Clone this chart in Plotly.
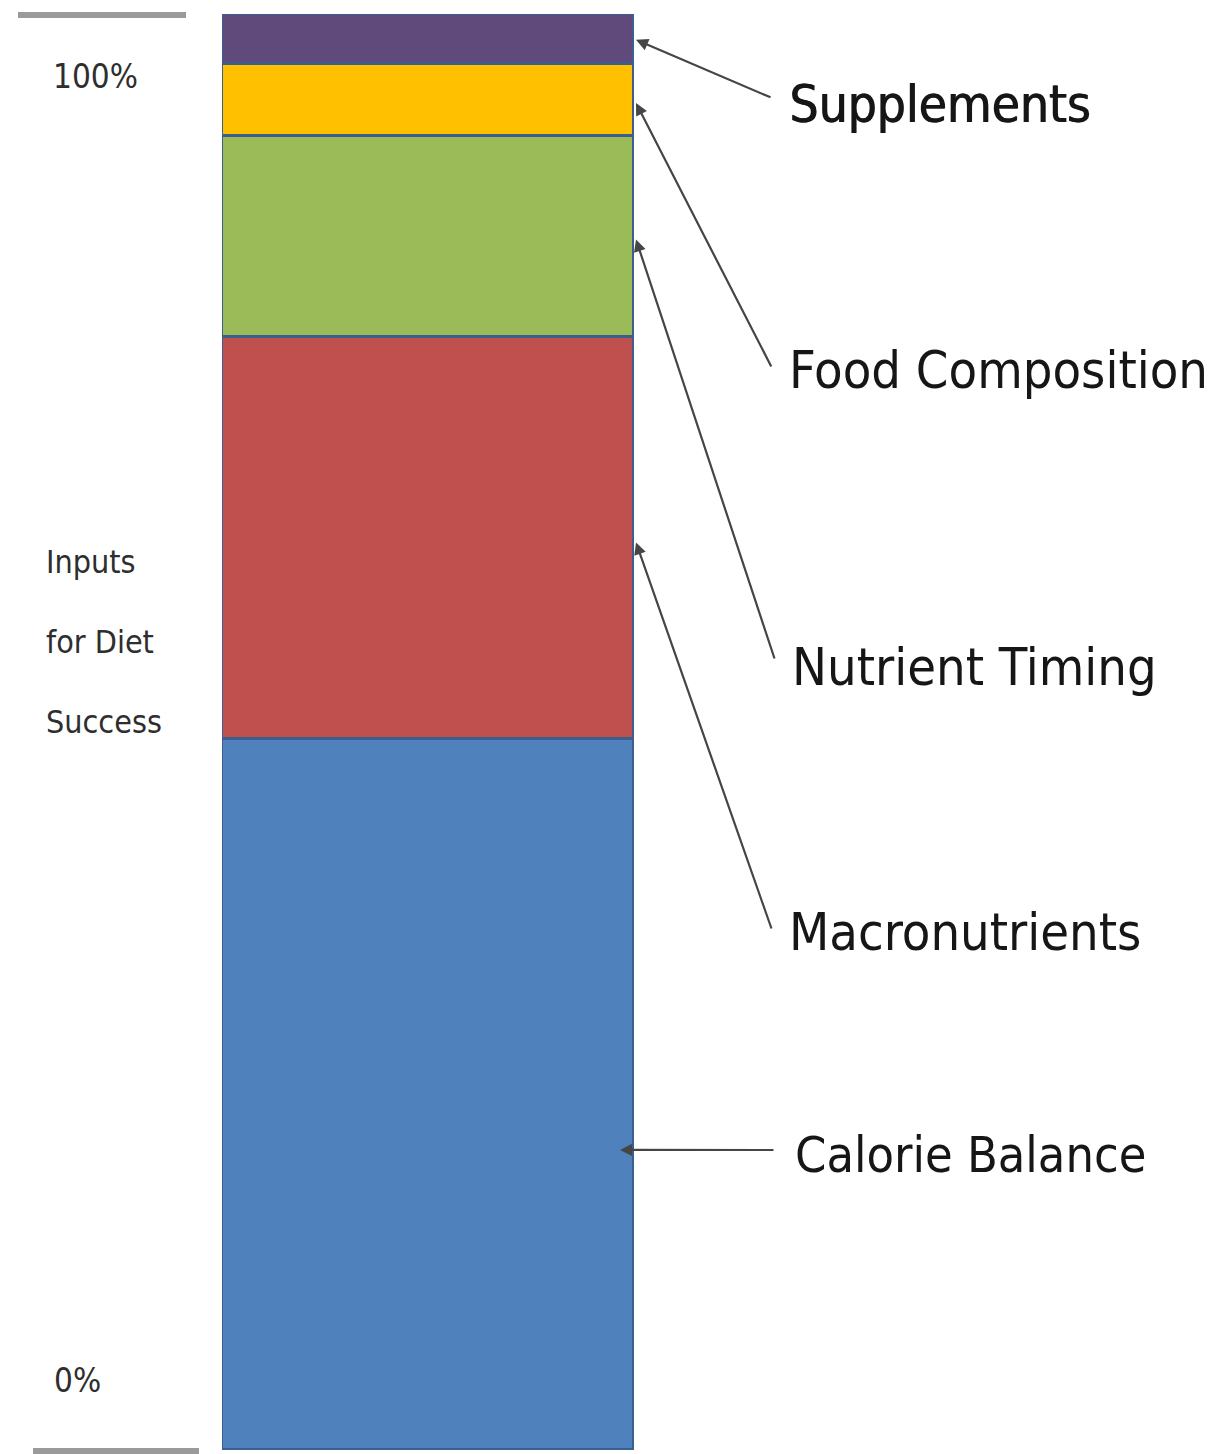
import plotly.graph_objects as go

W, H = 1209, 1454

# ---- data ----
categories = ["Calorie Balance", "Macronutrients", "Nutrient Timing", "Food Composition", "Supplements"]
values = [49.5, 28.0, 14.0, 5.0, 3.5]
colors = ["#4F81BD", "#C0504D", "#9BBB59", "#FFC000", "#604A7B"]
arrow_targets = [20.9, 63.2, 84.3, 93.8, 98.2]   # where each label's arrow points (y value)
tick_labels = ["0%", "100%"]
axis_title_lines = ["Inputs", "for Diet", "Success"]

NARROW = "DejaVu Sans Condensed, Liberation Sans Narrow, Arial Narrow, sans-serif"

fig = go.Figure()
for name, v, c in zip(categories, values, colors):
    fig.add_trace(go.Bar(
        x=[0], y=[v], name=name, width=1,
        marker=dict(color=c, line=dict(color="#3A5F8F", width=3)),
        showlegend=False, hoverinfo="name+y",
    ))

def px_x(p):
    return p / W

def px_y(p):
    return 1 - p / H

annotations = []
label_pos = [(793, 1155), (787, 932), (790, 667), (787, 370), (787, 105)]
label_size = [50, 52, 52, 52, 51]
label_shadow = ["none", "none", "none", "none", "1px 0px 0px #161616"]
head_x = [620, 636, 636, 636, 636]
tails = [(775, 1150), (772, 930), (775, 660), (772, 368), (772, 98)]

for i, name in enumerate(categories):
    lx, ly = label_pos[i]
    annotations.append(dict(
        x=px_x(lx), y=px_y(ly), xref="paper", yref="paper",
        text=name,
        showarrow=False, xanchor="left", yanchor="middle",
        font=dict(family=NARROW, size=label_size[i], color="#161616", shadow=label_shadow[i]),
    ))
    hx = head_x[i]
    tx, ty = tails[i]
    annotations.append(dict(
        x=px_x(hx), xref="paper", y=arrow_targets[i], yref="y",
        ax=tx, axref="pixel", ay=ty, ayref="pixel",
        text="", showarrow=True, arrowhead=2, arrowsize=1.1, arrowwidth=2.2,
        arrowcolor="#454545", standoff=0,
    ))

# left labels
annotations.append(dict(x=px_x(95), y=px_y(76), xref="paper", yref="paper", text=tick_labels[1],
                        showarrow=False, xanchor="center", yanchor="middle",
                        font=dict(family=NARROW, size=33, color="#2e2e2e")))
annotations.append(dict(x=px_x(77), y=px_y(1380), xref="paper", yref="paper", text=tick_labels[0],
                        showarrow=False, xanchor="center", yanchor="middle",
                        font=dict(family=NARROW, size=33, color="#2e2e2e")))
for j, t in enumerate(axis_title_lines):
    annotations.append(dict(x=px_x(44), y=px_y(562 + 80 * j), xref="paper", yref="paper", text=t,
                            showarrow=False, xanchor="left", yanchor="middle",
                            font=dict(family=NARROW, size=32, color="#2e2e2e")))

shapes = [
    dict(type="line", xref="paper", yref="paper", x0=px_x(18), x1=px_x(186), y0=px_y(15), y1=px_y(15),
         line=dict(color="#9a9a9a", width=6)),
    dict(type="line", xref="paper", yref="paper", x0=px_x(33), x1=px_x(199), y0=px_y(1451), y1=px_y(1451),
         line=dict(color="#9a9a9a", width=6)),
]

fig.update_layout(
    width=W, height=H,
    margin=dict(l=0, r=0, t=0, b=0),
    paper_bgcolor="white", plot_bgcolor="white",
    barmode="stack", bargap=0,
    xaxis=dict(domain=[222 / W, 634 / W], range=[-0.5, 0.5], visible=False, fixedrange=True),
    yaxis=dict(domain=[4 / H, 1 - 14 / H], range=[0, 100], visible=False, fixedrange=True),
    annotations=annotations,
    shapes=shapes,
)

# convert arrow tails from absolute pixels to offsets relative to heads
y0p, y1p = H - 4, 14  # pixel y of data 0 and 100
for a in fig.layout.annotations:
    if a.showarrow:
        hx_px = a.x * W
        hy_px = y0p + (y1p - y0p) * (a.y / 100.0)
        a.ax = a.ax - hx_px
        a.ay = a.ay - hy_px

fig.write_html("out.html")
